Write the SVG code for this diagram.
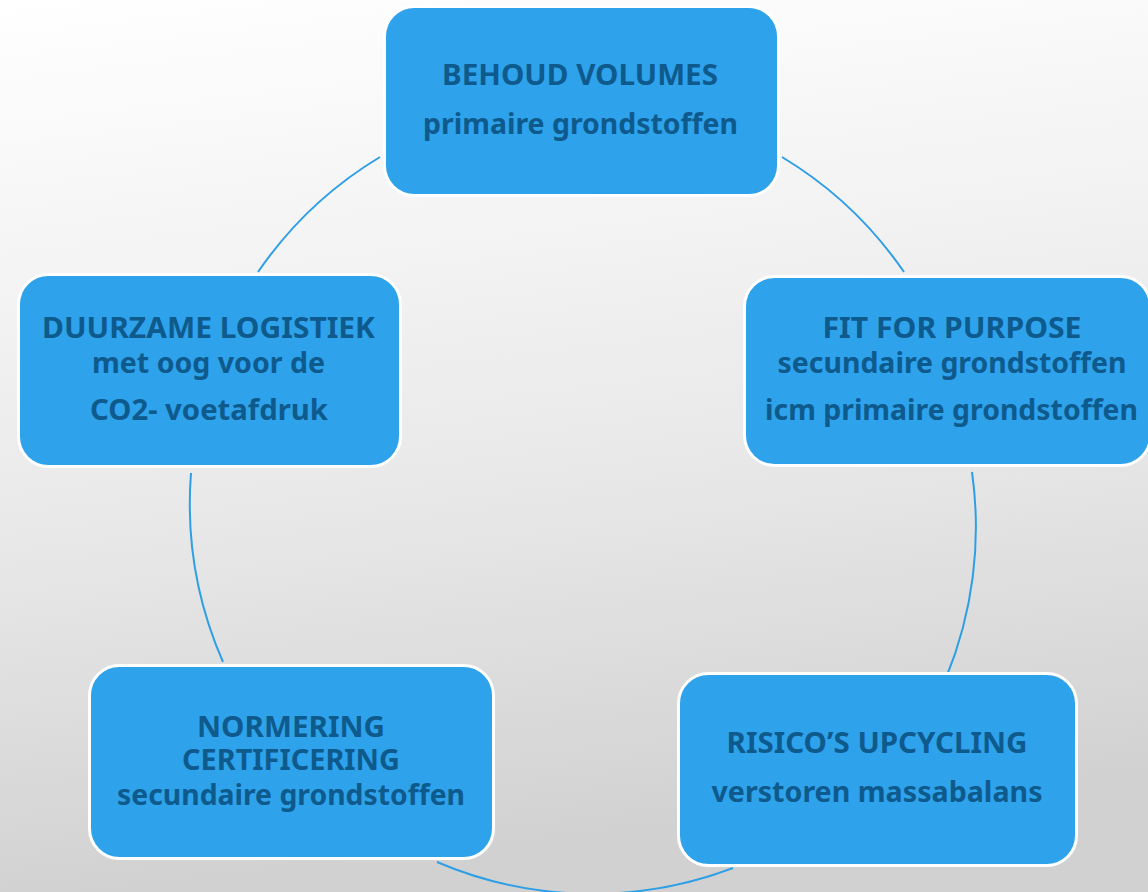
<svg xmlns="http://www.w3.org/2000/svg" width="1148" height="892" viewBox="0 0 1148 892">
  <defs>
    <linearGradient id="bg" x1="0" y1="0" x2="0.15" y2="1">
      <stop offset="0" stop-color="#ffffff"/>
      <stop offset="0.3" stop-color="#f4f4f4"/>
      <stop offset="0.6" stop-color="#e8e8e8"/>
      <stop offset="1" stop-color="#d1d1d1"/>
    </linearGradient>
    <style>
      .box { fill: #2ea2eb; stroke: #ffffff; stroke-width: 3; }
      .arc { fill: none; stroke: #2e9fe6; stroke-width: 2; }
      .t { font-family: "Noto Sans", "Open Sans", "DejaVu Sans", sans-serif; font-weight: bold; font-size: 29px; fill: #0e5a8c; text-anchor: middle; }
    </style>
  </defs>
  <rect x="0" y="0" width="1148" height="892" fill="url(#bg)"/>

  <g id="connectors">
    <path class="arc" d="M 782 157 A 395 395 0 0 1 904 272"/>
    <path class="arc" d="M 972 472 A 395 395 0 0 1 946 678"/>
    <path class="arc" d="M 733 868 A 395 395 0 0 1 437 862"/>
    <path class="arc" d="M 223 662 A 395 395 0 0 1 191 473"/>
    <path class="arc" d="M 258 272 A 395 395 0 0 1 380 157"/>
  </g>

  <g id="node-behoud">
    <rect class="box" x="384.5" y="6.5" width="394" height="189" rx="30"/>
    <text class="t" x="580" y="85" textLength="276" lengthAdjust="spacingAndGlyphs">BEHOUD VOLUMES</text>
    <text class="t" x="580.5" y="134" textLength="315" lengthAdjust="spacingAndGlyphs">primaire grondstoffen</text>
  </g>

  <g id="node-fit">
    <rect class="box" x="744.5" y="276.5" width="406" height="189" rx="30"/>
    <text class="t" x="952" y="338" textLength="259" lengthAdjust="spacingAndGlyphs">FIT FOR PURPOSE</text>
    <text class="t" x="952" y="373" textLength="349" lengthAdjust="spacingAndGlyphs">secundaire grondstoffen</text>
    <text class="t" x="951.5" y="420" textLength="373" lengthAdjust="spacingAndGlyphs">icm primaire grondstoffen</text>
  </g>

  <g id="node-risico">
    <rect class="box" x="678.5" y="673.5" width="398" height="192" rx="30"/>
    <text class="t" x="877" y="753" textLength="301" lengthAdjust="spacingAndGlyphs">RISICO’S UPCYCLING</text>
    <text class="t" x="877" y="802" textLength="331" lengthAdjust="spacingAndGlyphs">verstoren massabalans</text>
  </g>

  <g id="node-normering">
    <rect class="box" x="89.5" y="665.5" width="404" height="193" rx="30"/>
    <text class="t" x="291" y="737" textLength="188" lengthAdjust="spacingAndGlyphs">NORMERING</text>
    <text class="t" x="291" y="770" textLength="218" lengthAdjust="spacingAndGlyphs">CERTIFICERING</text>
    <text class="t" x="291" y="805" textLength="348" lengthAdjust="spacingAndGlyphs">secundaire grondstoffen</text>
  </g>

  <g id="node-logistiek">
    <rect class="box" x="18.5" y="274.5" width="382" height="192" rx="30"/>
    <text class="t" x="208.5" y="338" textLength="333" lengthAdjust="spacingAndGlyphs">DUURZAME LOGISTIEK</text>
    <text class="t" x="208.5" y="373" textLength="233" lengthAdjust="spacingAndGlyphs">met oog voor de</text>
    <text class="t" x="209" y="420" textLength="238" lengthAdjust="spacingAndGlyphs">CO2- voetafdruk</text>
  </g>
</svg>
